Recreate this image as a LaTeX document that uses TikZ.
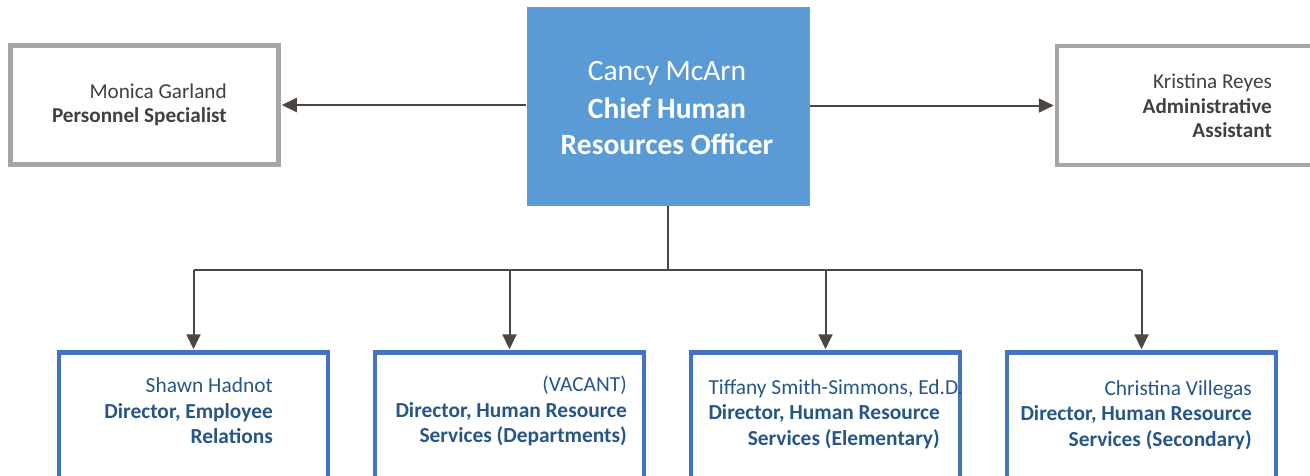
\documentclass[tikz,border=0pt]{standalone}
\usepackage{fontspec}
\setmainfont{Carlito}
\usetikzlibrary{arrows.meta}
\definecolor{chiefblue}{RGB}{91,155,213}
\definecolor{dirblue}{RGB}{68,114,196}
\definecolor{dirtext}{RGB}{38,86,136}
\definecolor{staffgray}{RGB}{166,166,166}
\definecolor{stafftext}{RGB}{64,64,64}
\definecolor{linkbrown}{RGB}{77,69,64}

\begin{document}
\begin{tikzpicture}[x=1pt,y=1pt,yscale=-1,
    staffbox/.style={draw=staffgray,line width=4.5pt,minimum width=268pt,minimum height=119pt,inner sep=0pt},
    dirbox/.style={draw=dirblue,line width=4.5pt,minimum width=269pt,minimum height=160pt,inner sep=0pt},
    stafflabel/.style={anchor=east,align=right,inner sep=0pt,text=stafftext,font=\fontsize{21.2}{24.5}\selectfont},
    dirlabel/.style={anchor=east,align=right,inner sep=0pt,text=dirtext,font=\fontsize{21.4}{25.5}\selectfont},
    link/.style={draw=linkbrown,line width=2pt},
    arrowlink/.style={link,-{Triangle[length=15pt,width=14pt]},shorten >=1pt}]
    \useasboundingbox (0,0) rectangle (1310,475);
    \clip (0,0) rectangle (1310,475);

    % Chief box
    \node [fill=chiefblue,minimum width=283pt,minimum height=199pt,inner sep=0pt] (chief) at (668,106.5) {};
    \node [align=center,inner sep=0pt,text=white,font=\fontsize{29.5}{36}\selectfont] (chieftxt) at (667,108) {Cancy McArn\\[2pt]\textbf{Chief Human}\\\textbf{Resources Officer}};

    % Staff boxes
    \node [staffbox] (monica) at (144.5,105) {};
    \node [stafflabel] (monicatxt) at (227,105) {Monica Garland\\\textbf{Personnel Specialist}};
    \node [staffbox] (admin) at (1191,105.5) {};
    \node [stafflabel] (admintxt) at (1272,106) {Kristina Reyes\\\textbf{Administrative}\\\textbf{Assistant}};

    % Director boxes
    \node [dirbox] (emprel) at (193.5,432.5) {};
    \node [dirlabel] (emprertxt) at (273,411) {Shawn Hadnot\\\textbf{Director, Employee}\\\textbf{Relations}};
    \node [dirbox] (depts) at (509.5,432.5) {};
    \node [dirlabel] (deptstxt) at (627,411) {(VACANT)\\\textbf{Director, Human Resource}\\\textbf{Services (Departments)}};
    \node [dirbox] (elem) at (825.5,432.5) {};
    \node [dirlabel] (elemtxt) at (940,414) {\rlap{Tiffany Smith-Simmons, Ed.D.}\phantom{\textbf{Director, Human Resource}}\\\textbf{Director, Human Resource}\\\textbf{Services (Elementary)}};
    \node [dirbox] (second) at (1141.5,432.5) {};
    \node [dirlabel] (secondtxt) at (1252,415) {Christina Villegas\\\textbf{Director, Human Resource}\\\textbf{Services (Secondary)}};

    % Connectors
    \coordinate (split) at (668,270);
    \draw [arrowlink] (chief.west |- monica.east) -- (monica.east);
    \draw [arrowlink] (chief.east |- admin.west) -- (admin.west);
    \draw [link] (chief.south) -- (split);
    \draw [link] (split -| emprel.north) -- (split -| second.north);
    \foreach \d in {emprel,depts,elem,second}
        \draw [arrowlink] (split -| \d.north) -- (\d.north);

\end{tikzpicture}
\end{document}
